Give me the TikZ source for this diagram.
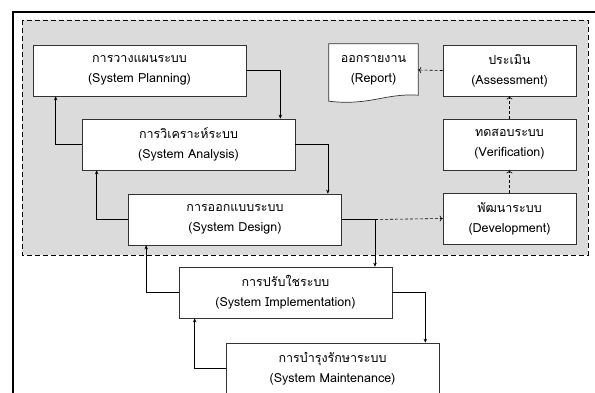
\documentclass[tikz,border=0pt]{standalone}
\usepackage{fontspec}
\setmainfont{Loma}[Script=Thai]
\usetikzlibrary{arrows.meta}
\tikzset{
    stage/.style={draw=black!80, fill=white, line width=0.7pt, minimum width=213, minimum height=51, align=center, font=\fontsize{12.5}{20}\selectfont},
    sidebox/.style={stage, minimum width=133},
    arr/.style={line width=0.6pt, -{Stealth[length=4pt, width=3.5pt]}},
    darr/.style={line width=0.6pt, dash pattern=on 3pt off 2pt, -{To[length=3pt, width=6pt]}}
}

\begin{document}
\begin{tikzpicture}[x=1pt, y=-1pt]
    \useasboundingbox (0, 0) rectangle (595, 392);
    \clip (0, 0) rectangle (595, 392);
    \fill[white] (0, 0) rectangle (595, 392);
    \draw[line width=2pt] (13, 12) rectangle (620, 420);
    \draw[fill=black!14, line width=1pt, dash pattern=on 5pt off 3pt] (22, 20) rectangle (588, 255);

    \node[stage] (plan) at (139.5, 70.5) {การวางแผนระบบ\\(System Planning)};
    \node[stage] (analysis) at (188.5, 144.5) {การวิเคราะห์ระบบ\\(System Analysis)};
    \node[stage] (design) at (235, 219.5) {การออกแบบระบบ\\(System Design)};
    \node[stage] (impl) at (285.5, 292.5) {การปรับใชระบบ\\(System Implementation)};
    \node[stage] (maint) at (332.5, 368.5) {การบำรุงรักษาระบบ\\(System Maintenance)};

    \node[sidebox] (assess) at (509.5, 70.5) {ประเมิน\\(Assessment)};
    \node[sidebox] (verif) at (509.5, 144.5) {ทดสอบระบบ\\(Verification)};
    \node[sidebox] (dev) at (509.5, 218.5) {พัฒนาระบบ\\(Development)};

    \node[minimum width=89, minimum height=52, align=center, font=\fontsize{12.5}{20}\selectfont] (report) at (373.5, 70) {\phantom{ออกรายงาน}};
    \draw[draw=black!80, fill=white, line width=0.7pt] (report.north west) -- (report.north east) -- ([yshift=1pt]report.south east)
        .. controls (385, 93) and (370, 106) .. ([yshift=-5pt]report.south west) -- cycle;
    \node[align=center, font=\fontsize{12.5}{20}\selectfont] at (report) {ออกรายงาน\\(Report)};

    \draw[arr] (plan.east) -| ([xshift=-15pt]analysis.north east);
    \draw[arr] (analysis.west) -| ([xshift=23pt]plan.south west);
    \draw[arr] (analysis.east) -| ([xshift=-14pt]design.north east);
    \draw[arr] (design.west) -| ([xshift=15pt]analysis.south west);
    \coordinate (split) at (375, 219.5);
    \draw[arr] (design.east) -- (split) -- (impl.north -| split);
    \draw[darr] (split) -- (dev.west);
    \draw[arr] (impl.west) -| ([xshift=18pt]design.south west);
    \draw[arr] (impl.east) -| ([xshift=-14pt]maint.north east);
    \draw[arr] (maint.west) -| ([xshift=16pt]impl.south west);

    \draw[darr] (dev.north) -- (verif.south);
    \draw[darr] (verif.north) -- (assess.south);
    \draw[darr] (assess.west) -- (report.east);
\end{tikzpicture}
\end{document}
